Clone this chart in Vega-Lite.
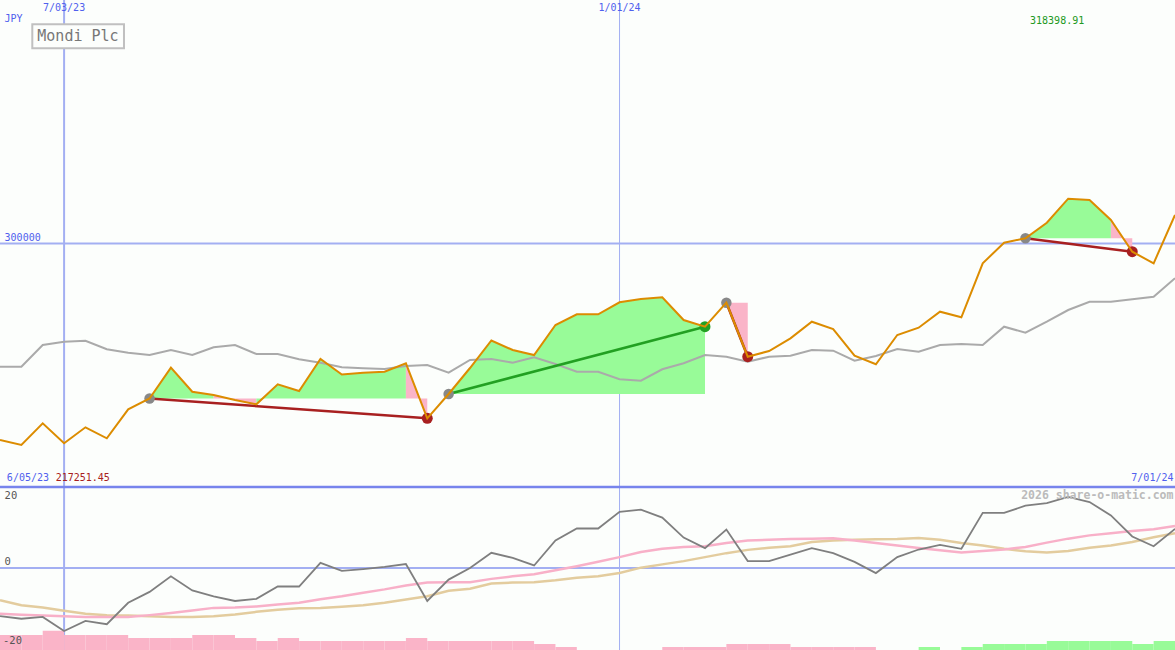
{
  "$schema": "https://vega.github.io/schema/vega-lite/v6.json",
  "width": 1175,
  "height": 650,
  "autosize": {"type": "none"},
  "padding": 0,
  "background": "#fcfefc",
  "config": {"view": {"stroke": null}, "axis": {"disable": true}},
  "datasets": {
    "weekly": [
      {"date":"2023-06-12","price":219302,"ma":249404,"osc":-13.3,"oscAvg":-12.6,"oscLong":-8.9},
      {"date":"2023-06-19","price":217251.45,"ma":249404,"osc":-14.0,"oscAvg":-12.9,"oscLong":-10.3},
      {"date":"2023-06-26","price":226160,"ma":258316,"osc":-13.5,"oscAvg":-13.1,"oscLong":-10.9},
      {"date":"2023-07-03","price":217946,"ma":259671,"osc":-17.4,"oscAvg":-13.3,"oscLong":-11.8},
      {"date":"2023-07-10","price":224517,"ma":260082,"osc":-14.6,"oscAvg":-13.5,"oscLong":-12.6},
      {"date":"2023-07-17","price":219999,"ma":256550,"osc":-15.5,"oscAvg":-13.5,"oscLong":-13.0},
      {"date":"2023-07-24","price":231910,"ma":255154,"osc":-9.6,"oscAvg":-13.5,"oscLong":-13.1},
      {"date":"2023-07-31","price":236345,"ma":254209,"osc":-6.6,"oscAvg":-13.0,"oscLong":-13.3},
      {"date":"2023-08-07","price":248994,"ma":256263,"osc":-2.3,"oscAvg":-12.4,"oscLong":-13.5},
      {"date":"2023-08-14","price":239138,"ma":254209,"osc":-6.2,"oscAvg":-11.7,"oscLong":-13.5},
      {"date":"2023-08-21","price":237782,"ma":257372,"osc":-7.8,"oscAvg":-11.0,"oscLong":-13.3},
      {"date":"2023-08-28","price":235729,"ma":258316,"osc":-9.1,"oscAvg":-10.9,"oscLong":-12.8},
      {"date":"2023-09-04","price":233963,"ma":254620,"osc":-8.5,"oscAvg":-10.6,"oscLong":-12.1},
      {"date":"2023-09-11","price":242177,"ma":254620,"osc":-5.1,"oscAvg":-10.1,"oscLong":-11.5},
      {"date":"2023-09-18","price":239425,"ma":252443,"osc":-5.1,"oscAvg":-9.6,"oscLong":-11.1},
      {"date":"2023-09-25","price":252567,"ma":251047,"osc":1.4,"oscAvg":-8.6,"oscLong":-11.0},
      {"date":"2023-10-02","price":246201,"ma":249158,"osc":-0.8,"oscAvg":-7.8,"oscLong":-10.7},
      {"date":"2023-10-09","price":246940,"ma":248747,"osc":-0.3,"oscAvg":-6.8,"oscLong":-10.3},
      {"date":"2023-10-16","price":247351,"ma":248460,"osc":0.3,"oscAvg":-5.9,"oscLong":-9.6},
      {"date":"2023-10-23","price":250801,"ma":249692,"osc":1.1,"oscAvg":-4.8,"oscLong":-8.7},
      {"date":"2023-10-30","price":228213,"ma":250103,"osc":-9.1,"oscAvg":-4.0,"oscLong":-7.8},
      {"date":"2023-11-06","price":238193,"ma":246940,"osc":-3.2,"oscAvg":-3.9,"oscLong":-6.3},
      {"date":"2023-11-13","price":248870,"ma":252156,"osc":0.0,"oscAvg":-3.9,"oscLong":-5.7},
      {"date":"2023-11-20","price":260164,"ma":252567,"osc":4.2,"oscAvg":-3.0,"oscLong":-4.3},
      {"date":"2023-11-27","price":256263,"ma":251047,"osc":2.8,"oscAvg":-2.3,"oscLong":-4.0},
      {"date":"2023-12-04","price":254209,"ma":253265,"osc":0.7,"oscAvg":-1.7,"oscLong":-3.9},
      {"date":"2023-12-11","price":266530,"ma":250513,"osc":7.6,"oscAvg":-0.6,"oscLong":-3.4},
      {"date":"2023-12-18","price":270924,"ma":247351,"osc":10.9,"oscAvg":0.5,"oscLong":-2.7},
      {"date":"2023-12-25","price":270924,"ma":247351,"osc":10.9,"oscAvg":1.7,"oscLong":-2.3},
      {"date":"2024-01-01","price":275852,"ma":244230,"osc":15.5,"oscAvg":3.0,"oscLong":-1.4},
      {"date":"2024-01-08","price":277207,"ma":243655,"osc":16.1,"oscAvg":4.4,"oscLong":0.1},
      {"date":"2024-01-15","price":277905,"ma":248337,"osc":13.9,"oscAvg":5.3,"oscLong":1.0},
      {"date":"2024-01-22","price":268583,"ma":250801,"osc":8.4,"oscAvg":5.8,"oscLong":1.9},
      {"date":"2024-01-29","price":265832,"ma":254209,"osc":5.5,"oscAvg":6.0,"oscLong":3.0},
      {"date":"2024-02-05","price":275688,"ma":253511,"osc":10.6,"oscAvg":6.9,"oscLong":4.1},
      {"date":"2024-02-12","price":253511,"ma":251458,"osc":1.9,"oscAvg":7.6,"oscLong":5.0},
      {"date":"2024-02-19","price":255852,"ma":253511,"osc":1.9,"oscAvg":7.8,"oscLong":5.6},
      {"date":"2024-02-26","price":261068,"ma":253922,"osc":3.7,"oscAvg":8.0,"oscLong":6.0},
      {"date":"2024-03-04","price":267885,"ma":256263,"osc":5.5,"oscAvg":8.1,"oscLong":7.2},
      {"date":"2024-03-11","price":264887,"ma":255975,"osc":4.1,"oscAvg":8.2,"oscLong":7.6},
      {"date":"2024-03-18","price":253922,"ma":251868,"osc":1.7,"oscAvg":7.6,"oscLong":7.8},
      {"date":"2024-03-25","price":250390,"ma":253799,"osc":-1.4,"oscAvg":6.9,"oscLong":7.9},
      {"date":"2024-04-01","price":262423,"ma":256673,"osc":3.0,"oscAvg":6.2,"oscLong":8.0},
      {"date":"2024-04-08","price":265421,"ma":255564,"osc":5.1,"oscAvg":5.5,"oscLong":8.3},
      {"date":"2024-04-15","price":271992,"ma":258316,"osc":6.4,"oscAvg":4.9,"oscLong":7.8},
      {"date":"2024-04-22","price":269692,"ma":258727,"osc":5.3,"oscAvg":4.3,"oscLong":6.9},
      {"date":"2024-04-29","price":291868,"ma":258316,"osc":15.2,"oscAvg":4.7,"oscLong":6.2},
      {"date":"2024-05-06","price":300328,"ma":265831,"osc":15.2,"oscAvg":5.1,"oscLong":5.3},
      {"date":"2024-05-13","price":302135,"ma":263367,"osc":17.2,"oscAvg":5.8,"oscLong":4.6},
      {"date":"2024-05-20","price":308541,"ma":267885,"osc":17.9,"oscAvg":7.0,"oscLong":4.3},
      {"date":"2024-05-27","price":318398.91,"ma":272690,"osc":19.6,"oscAvg":8.1,"oscLong":4.7},
      {"date":"2024-06-03","price":317864,"ma":276098,"osc":18.2,"oscAvg":9.0,"oscLong":5.6},
      {"date":"2024-06-10","price":309651,"ma":276098,"osc":14.5,"oscAvg":9.6,"oscLong":6.2},
      {"date":"2024-06-17","price":296633,"ma":277084,"osc":8.7,"oscAvg":10.2,"oscLong":7.2},
      {"date":"2024-06-24","price":291868,"ma":278152,"osc":6.0,"oscAvg":10.7,"oscLong":8.5},
      {"date":"2024-07-01","price":311704,"ma":285708,"osc":10.8,"oscAvg":11.6,"oscLong":9.6}
    ],
    "hist": [
      {"date":"2023-06-12","end":"2023-06-19","hist":5,"dir":"down"},
      {"date":"2023-06-19","end":"2023-06-26","hist":5,"dir":"down"},
      {"date":"2023-06-26","end":"2023-07-03","hist":6.4,"dir":"down"},
      {"date":"2023-07-03","end":"2023-07-10","hist":5,"dir":"down"},
      {"date":"2023-07-10","end":"2023-07-17","hist":5,"dir":"down"},
      {"date":"2023-07-17","end":"2023-07-24","hist":5,"dir":"down"},
      {"date":"2023-07-24","end":"2023-07-31","hist":4,"dir":"down"},
      {"date":"2023-07-31","end":"2023-08-07","hist":4,"dir":"down"},
      {"date":"2023-08-07","end":"2023-08-14","hist":4,"dir":"down"},
      {"date":"2023-08-14","end":"2023-08-21","hist":5,"dir":"down"},
      {"date":"2023-08-21","end":"2023-08-28","hist":5,"dir":"down"},
      {"date":"2023-08-28","end":"2023-09-04","hist":4,"dir":"down"},
      {"date":"2023-09-04","end":"2023-09-11","hist":3,"dir":"down"},
      {"date":"2023-09-11","end":"2023-09-18","hist":4,"dir":"down"},
      {"date":"2023-09-18","end":"2023-09-25","hist":3,"dir":"down"},
      {"date":"2023-09-25","end":"2023-10-02","hist":3,"dir":"down"},
      {"date":"2023-10-02","end":"2023-10-09","hist":3,"dir":"down"},
      {"date":"2023-10-09","end":"2023-10-16","hist":3,"dir":"down"},
      {"date":"2023-10-16","end":"2023-10-23","hist":3,"dir":"down"},
      {"date":"2023-10-23","end":"2023-10-30","hist":4,"dir":"down"},
      {"date":"2023-10-30","end":"2023-11-06","hist":3,"dir":"down"},
      {"date":"2023-11-06","end":"2023-11-13","hist":3,"dir":"down"},
      {"date":"2023-11-13","end":"2023-11-20","hist":3,"dir":"down"},
      {"date":"2023-11-20","end":"2023-11-27","hist":3,"dir":"down"},
      {"date":"2023-11-27","end":"2023-12-04","hist":3,"dir":"down"},
      {"date":"2023-12-04","end":"2023-12-11","hist":2,"dir":"down"},
      {"date":"2023-12-11","end":"2023-12-18","hist":1,"dir":"down"},
      {"date":"2024-01-15","end":"2024-01-22","hist":1,"dir":"down"},
      {"date":"2024-01-22","end":"2024-01-29","hist":1,"dir":"down"},
      {"date":"2024-01-29","end":"2024-02-05","hist":1,"dir":"down"},
      {"date":"2024-02-05","end":"2024-02-12","hist":2,"dir":"down"},
      {"date":"2024-02-12","end":"2024-02-19","hist":2,"dir":"down"},
      {"date":"2024-02-19","end":"2024-02-26","hist":2,"dir":"down"},
      {"date":"2024-02-26","end":"2024-03-04","hist":1,"dir":"down"},
      {"date":"2024-03-04","end":"2024-03-11","hist":1,"dir":"down"},
      {"date":"2024-03-11","end":"2024-03-18","hist":1,"dir":"down"},
      {"date":"2024-03-18","end":"2024-03-25","hist":1,"dir":"down"},
      {"date":"2024-04-08","end":"2024-04-15","hist":1,"dir":"up"},
      {"date":"2024-04-22","end":"2024-04-29","hist":1,"dir":"up"},
      {"date":"2024-04-29","end":"2024-05-06","hist":2,"dir":"up"},
      {"date":"2024-05-06","end":"2024-05-13","hist":2,"dir":"up"},
      {"date":"2024-05-13","end":"2024-05-20","hist":2,"dir":"up"},
      {"date":"2024-05-20","end":"2024-05-27","hist":3,"dir":"up"},
      {"date":"2024-05-27","end":"2024-06-03","hist":3,"dir":"up"},
      {"date":"2024-06-03","end":"2024-06-10","hist":3,"dir":"up"},
      {"date":"2024-06-10","end":"2024-06-17","hist":3,"dir":"up"},
      {"date":"2024-06-17","end":"2024-06-24","hist":2,"dir":"up"},
      {"date":"2024-06-24","end":"2024-07-01","hist":3,"dir":"up"}
    ],
    "fills": [
      {"run":"a1","kind":"up","date":"2023-07-31","price":236345,"base":236345},
      {"run":"a1","kind":"up","date":"2023-08-07","price":248994,"base":236345},
      {"run":"a1","kind":"up","date":"2023-08-14","price":239138,"base":236345},
      {"run":"a1","kind":"up","date":"2023-08-21","price":237782,"base":236345},
      {"run":"a2","kind":"down","date":"2023-08-21","price":237782,"base":236345},
      {"run":"a2","kind":"down","date":"2023-08-28","price":235729,"base":236345},
      {"run":"a2","kind":"down","date":"2023-09-04","price":233963,"base":236345},
      {"run":"a3","kind":"up","date":"2023-09-04","price":233963,"base":236345},
      {"run":"a3","kind":"up","date":"2023-09-11","price":242177,"base":236345},
      {"run":"a3","kind":"up","date":"2023-09-18","price":239425,"base":236345},
      {"run":"a3","kind":"up","date":"2023-09-25","price":252567,"base":236345},
      {"run":"a3","kind":"up","date":"2023-10-02","price":246201,"base":236345},
      {"run":"a3","kind":"up","date":"2023-10-09","price":246940,"base":236345},
      {"run":"a3","kind":"up","date":"2023-10-16","price":247351,"base":236345},
      {"run":"a3","kind":"up","date":"2023-10-23","price":250801,"base":236345},
      {"run":"a4","kind":"down","date":"2023-10-23","price":250801,"base":236345},
      {"run":"a4","kind":"down","date":"2023-10-30","price":228213,"base":236345},
      {"run":"b","kind":"up","date":"2023-11-06","price":238193,"base":238193},
      {"run":"b","kind":"up","date":"2023-11-13","price":248870,"base":238193},
      {"run":"b","kind":"up","date":"2023-11-20","price":260164,"base":238193},
      {"run":"b","kind":"up","date":"2023-11-27","price":256263,"base":238193},
      {"run":"b","kind":"up","date":"2023-12-04","price":254209,"base":238193},
      {"run":"b","kind":"up","date":"2023-12-11","price":266530,"base":238193},
      {"run":"b","kind":"up","date":"2023-12-18","price":270924,"base":238193},
      {"run":"b","kind":"up","date":"2023-12-25","price":270924,"base":238193},
      {"run":"b","kind":"up","date":"2024-01-01","price":275852,"base":238193},
      {"run":"b","kind":"up","date":"2024-01-08","price":277207,"base":238193},
      {"run":"b","kind":"up","date":"2024-01-15","price":277905,"base":238193},
      {"run":"b","kind":"up","date":"2024-01-22","price":268583,"base":238193},
      {"run":"b","kind":"up","date":"2024-01-29","price":265832,"base":238193},
      {"run":"c","kind":"down","date":"2024-02-05","price":275688,"base":275688},
      {"run":"c","kind":"down","date":"2024-02-12","price":253511,"base":275688},
      {"run":"d1","kind":"up","date":"2024-05-13","price":302135,"base":302135},
      {"run":"d1","kind":"up","date":"2024-05-20","price":308541,"base":302135},
      {"run":"d1","kind":"up","date":"2024-05-27","price":318398.91,"base":302135},
      {"run":"d1","kind":"up","date":"2024-06-03","price":317864,"base":302135},
      {"run":"d1","kind":"up","date":"2024-06-10","price":309651,"base":302135},
      {"run":"d2","kind":"down","date":"2024-06-10","price":309651,"base":302135},
      {"run":"d2","kind":"down","date":"2024-06-17","price":296633,"base":302135}
    ],
    "signals": [
      {"from":"2023-07-31","to":"2023-10-30","p0":236345,"p1":228213,"signal":"sell"},
      {"from":"2023-11-06","to":"2024-01-29","p0":238193,"p1":265832,"signal":"buy"},
      {"from":"2024-02-05","to":"2024-02-12","p0":275688,"p1":253511,"signal":"sell"},
      {"from":"2024-05-13","to":"2024-06-17","p0":302135,"p1":296633,"signal":"sell"}
    ]
  },
  "data": {"name": "weekly"},
  "layer": [
    {
      "data": {"values": [{"d":"2023-07-03","w":2},{"d":"2024-01-01","w":1}]},
      "mark": {"type": "rule", "color": "#a3aff2"},
      "encoding": {
        "x": {"field": "d", "type": "temporal", "scale": {"domain": [{"year":2023,"month":6,"date":12,"utc":true},{"year":2024,"month":7,"date":1,"utc":true}], "nice": false}},
        "strokeWidth": {"field": "w", "type": "quantitative", "scale": null}
      }
    },
    {
      "data": {"name": "hist"},
      "mark": {"type": "rect"},
      "encoding": {
        "x": {"field": "date", "type": "temporal"},
        "x2": {"field": "end"},
        "y": {"field": "hist", "type": "quantitative", "scale": {"domain": [0, 216.67], "nice": false, "zero": false}},
        "y2": {"datum": 0},
        "color": {"field": "dir", "type": "nominal", "scale": {"domain": ["up","down"], "range": ["#98fb98","#fab4c8"]}, "legend": null}
      }
    },
    {
      "layer": [
        {
          "data": {"values": [{"v":300000,"w":2,"c":"#a3aff2"},{"v":200000,"w":2.5,"c":"#7784ec"}]},
          "mark": {"type": "rule"},
          "encoding": {
            "y": {"field": "v", "type": "quantitative", "scale": {"domain": [133060, 400000], "nice": false, "zero": false}},
            "strokeWidth": {"field": "w", "type": "quantitative", "scale": null},
            "color": {"field": "c", "type": "nominal", "scale": null}
          }
        },
        {
          "data": {"name": "fills"},
          "mark": {"type": "area", "opacity": 1},
          "encoding": {
            "x": {"field": "date", "type": "temporal"},
            "y": {"field": "price", "type": "quantitative", "stack": null},
            "y2": {"field": "base"},
            "color": {"field": "kind", "type": "nominal", "scale": {"domain": ["up","down"], "range": ["#98fb98","#fab4c8"]}, "legend": null},
            "detail": {"field": "run"}
          }
        },
        {
          "mark": {"type": "line", "color": "#aaaaaa", "strokeWidth": 2},
          "encoding": {
            "x": {"field": "date", "type": "temporal"},
            "y": {"field": "ma", "type": "quantitative"}
          }
        },
        {
          "data": {"name": "signals"},
          "mark": {"type": "rule", "strokeWidth": 2.5},
          "encoding": {
            "x": {"field": "from", "type": "temporal"},
            "x2": {"field": "to"},
            "y": {"field": "p0", "type": "quantitative"},
            "y2": {"field": "p1"},
            "stroke": {"field": "signal", "type": "nominal", "scale": {"domain": ["buy","sell"], "range": ["#22a022","#a82020"]}, "legend": null}
          }
        },
        {
          "data": {"name": "signals"},
          "mark": {"type": "point", "filled": true, "opacity": 1, "size": 110, "color": "#888888"},
          "encoding": {
            "x": {"field": "from", "type": "temporal"},
            "y": {"field": "p0", "type": "quantitative"}
          }
        },
        {
          "data": {"name": "signals"},
          "mark": {"type": "point", "filled": true, "opacity": 1, "size": 120},
          "encoding": {
            "x": {"field": "to", "type": "temporal"},
            "y": {"field": "p1", "type": "quantitative"},
            "fill": {"field": "signal", "type": "nominal", "scale": {"domain": ["buy","sell"], "range": ["#22a022","#a82020"]}, "legend": null}
          }
        },
        {
          "mark": {"type": "line", "color": "#dc8c00", "strokeWidth": 2},
          "encoding": {
            "x": {"field": "date", "type": "temporal"},
            "y": {"field": "price", "type": "quantitative"}
          }
        },
        {
          "data": {"values": [{"x1":"2023-06-22T14:00:00Z","x2":"2023-07-22T15:00:00Z","y1":390020,"y2":380164}]},
          "mark": {"type": "rect", "fill": "#fcfefc", "stroke": "#c0c0c0", "strokeWidth": 2},
          "encoding": {
            "x": {"field": "x1", "type": "temporal"},
            "x2": {"field": "x2"},
            "y": {"field": "y1", "type": "quantitative"},
            "y2": {"field": "y2"}
          }
        },
        {
          "data": {"values": [{"t":"Mondi Plc","d":"2023-07-07T13:00:00Z","v":385200}]},
          "mark": {"type": "text", "align": "center", "baseline": "middle", "font": "DejaVu Sans Mono", "fontSize": 15, "color": "#777777"},
          "encoding": {
            "x": {"field": "d", "type": "temporal"},
            "y": {"field": "v", "type": "quantitative"},
            "text": {"field": "t"}
          }
        },
        {
          "data": {"values": [
            {"t":"7/03/23","d":"2023-07-03","v":396700,"c":"#5060ee"},
            {"t":"1/01/24","d":"2024-01-01","v":396700,"c":"#5060ee"}
          ]},
          "mark": {"type": "text", "align": "center", "baseline": "middle", "font": "DejaVu Sans Mono", "fontSize": 10},
          "encoding": {
            "x": {"field": "d", "type": "temporal"},
            "y": {"field": "v", "type": "quantitative"},
            "text": {"field": "t"},
            "color": {"field": "c", "type": "nominal", "scale": null}
          }
        },
        {
          "data": {"values": [
            {"t":"JPY","d":"2023-06-13T12:00:00Z","v":392200,"c":"#5060ee"},
            {"t":"300000","d":"2023-06-13T12:00:00Z","v":302300,"c":"#5060ee"},
            {"t":"318398.91","d":"2024-05-14T12:00:00Z","v":391400,"c":"#229922"},
            {"t":"6/05/23","d":"2023-06-14T06:00:00Z","v":203500,"c":"#5060ee"},
            {"t":"217251.45","d":"2023-06-30T06:00:00Z","v":203500,"c":"#a82020"}
          ]},
          "mark": {"type": "text", "align": "left", "baseline": "middle", "font": "DejaVu Sans Mono", "fontSize": 10},
          "encoding": {
            "x": {"field": "d", "type": "temporal"},
            "y": {"field": "v", "type": "quantitative"},
            "text": {"field": "t"},
            "color": {"field": "c", "type": "nominal", "scale": null}
          }
        },
        {
          "data": {"values": [
            {"t":"7/01/24","d":"2024-06-30T12:00:00Z","v":203500,"c":"#5060ee"}
          ]},
          "mark": {"type": "text", "align": "right", "baseline": "middle", "font": "DejaVu Sans Mono", "fontSize": 10},
          "encoding": {
            "x": {"field": "d", "type": "temporal"},
            "y": {"field": "v", "type": "quantitative"},
            "text": {"field": "t"},
            "color": {"field": "c", "type": "nominal", "scale": null}
          }
        }
      ],
      "resolve": {"scale": {"color": "independent", "fill": "independent", "stroke": "independent"}}
    },
    {
      "layer": [
        {
          "data": {"values": [{"v":0}]},
          "mark": {"type": "rule", "color": "#a3aff2", "strokeWidth": 2},
          "encoding": {"y": {"field": "v", "type": "quantitative", "scale": {"domain": [-22.62, 156.69], "nice": false, "zero": false}}}
        },
        {
          "mark": {"type": "line", "color": "#e3cc9e", "strokeWidth": 2.5},
          "encoding": {
            "x": {"field": "date", "type": "temporal"},
            "y": {"field": "oscLong", "type": "quantitative"}
          }
        },
        {
          "mark": {"type": "line", "color": "#f8b0c8", "strokeWidth": 2.5},
          "encoding": {
            "x": {"field": "date", "type": "temporal"},
            "y": {"field": "oscAvg", "type": "quantitative"}
          }
        },
        {
          "mark": {"type": "line", "color": "#7f7f7f", "strokeWidth": 1.8},
          "encoding": {
            "x": {"field": "date", "type": "temporal"},
            "y": {"field": "osc", "type": "quantitative"}
          }
        },
        {
          "data": {"values": [
            {"t":"20","d":"2023-06-13T12:00:00Z","v":20},
            {"t":"0","d":"2023-06-13T12:00:00Z","v":1.7},
            {"t":"-20","d":"2023-06-13T00:00:00Z","v":-20}
          ]},
          "mark": {"type": "text", "align": "left", "baseline": "middle", "font": "DejaVu Sans Mono", "fontSize": 10.5, "color": "#555555"},
          "encoding": {
            "x": {"field": "d", "type": "temporal"},
            "y": {"field": "v", "type": "quantitative"},
            "text": {"field": "t"}
          }
        },
        {
          "data": {"values": [
            {"t":"2026 share-o-matic.com","d":"2024-06-30T12:00:00Z","v":20}
          ]},
          "mark": {"type": "text", "align": "right", "baseline": "middle", "font": "DejaVu Sans Mono", "fontSize": 11.5, "fontWeight": "bold", "color": "#bbbbbb"},
          "encoding": {
            "x": {"field": "d", "type": "temporal"},
            "y": {"field": "v", "type": "quantitative"},
            "text": {"field": "t"}
          }
        }
      ]
    }
  ],
  "resolve": {"scale": {"y": "independent", "color": "independent", "fill": "independent", "stroke": "independent"}}
}
